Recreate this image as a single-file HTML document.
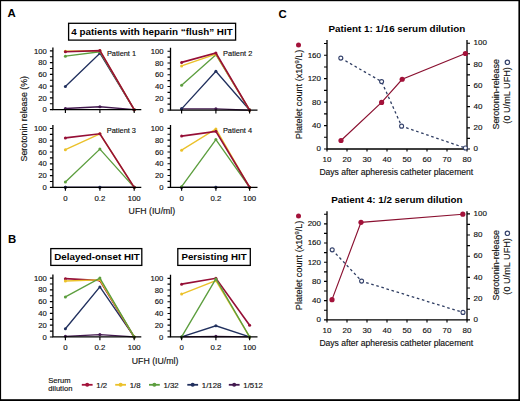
<!DOCTYPE html>
<html><head><meta charset="utf-8"><style>
html,body{margin:0;padding:0;background:#fff;}
svg{display:block;}
text:not([font-weight]){stroke:#111;stroke-width:0.15px;}
</style></head><body>
<svg width="520" height="401" viewBox="0 0 520 401" font-family="Liberation Sans, sans-serif">
<rect x="0" y="0" width="520" height="401" fill="#000"/>
<rect x="1.1" y="1.2" width="517.3" height="398" fill="#fff"/>
<text x="7.5" y="17.1" font-size="11.4" font-weight="bold" fill="#000">A</text>
<text x="8" y="242.6" font-size="11.4" font-weight="bold" fill="#000">B</text>
<text x="278.6" y="17.6" font-size="11.4" font-weight="bold" fill="#000">C</text>
<rect x="68.6" y="23.3" width="167" height="16.8" fill="none" stroke="#000" stroke-width="1.3"/>
<text x="152" y="35" text-anchor="middle" font-size="9.85" font-weight="bold" fill="#000">4 patients with heparin “flush” HIT</text>
<rect x="50.8" y="248.6" width="91" height="16.8" fill="none" stroke="#000" stroke-width="1.3"/>
<text x="97" y="260.3" text-anchor="middle" font-size="9.8" font-weight="bold" fill="#000">Delayed-onset HIT</text>
<rect x="177.8" y="248.6" width="72.5" height="16.8" fill="none" stroke="#000" stroke-width="1.3"/>
<text x="214" y="260.3" text-anchor="middle" font-size="9.7" font-weight="bold" fill="#000">Persisting HIT</text>
<text x="46.80" y="112.25" text-anchor="end" font-size="7.7" fill="#111">0</text>
<text x="46.80" y="100.50" text-anchor="end" font-size="7.7" fill="#111">20</text>
<text x="46.80" y="88.75" text-anchor="end" font-size="7.7" fill="#111">40</text>
<text x="46.80" y="77.00" text-anchor="end" font-size="7.7" fill="#111">60</text>
<text x="46.80" y="65.25" text-anchor="end" font-size="7.7" fill="#111">80</text>
<text x="46.80" y="53.50" text-anchor="end" font-size="7.7" fill="#111">100</text>
<polyline points="65.40,108.48 99.90,106.71 134.20,109.65" fill="none" stroke="#43194f" stroke-width="1.35" stroke-linejoin="miter"/>
<circle cx="65.40" cy="108.48" r="1.5" fill="#43194f"/>
<circle cx="99.90" cy="106.71" r="1.5" fill="#43194f"/>
<circle cx="134.20" cy="109.65" r="1.5" fill="#43194f"/>
<polyline points="65.40,86.44 99.90,53.25 134.20,109.65" fill="none" stroke="#21305e" stroke-width="1.35" stroke-linejoin="miter"/>
<circle cx="65.40" cy="86.44" r="1.5" fill="#21305e"/>
<circle cx="99.90" cy="53.25" r="1.5" fill="#21305e"/>
<circle cx="134.20" cy="109.65" r="1.5" fill="#21305e"/>
<polyline points="65.40,56.19 99.90,51.78 134.20,109.65" fill="none" stroke="#5c9e3e" stroke-width="1.35" stroke-linejoin="miter"/>
<circle cx="65.40" cy="56.19" r="1.5" fill="#5c9e3e"/>
<circle cx="99.90" cy="51.78" r="1.5" fill="#5c9e3e"/>
<circle cx="134.20" cy="109.65" r="1.5" fill="#5c9e3e"/>
<polyline points="65.40,51.19 99.90,50.61 134.20,109.65" fill="none" stroke="#ebc12a" stroke-width="1.35" stroke-linejoin="miter"/>
<circle cx="65.40" cy="51.19" r="1.5" fill="#ebc12a"/>
<circle cx="99.90" cy="50.61" r="1.5" fill="#ebc12a"/>
<circle cx="134.20" cy="109.65" r="1.5" fill="#ebc12a"/>
<polyline points="65.40,51.78 99.90,50.61 134.20,109.65" fill="none" stroke="#960f36" stroke-width="1.65" stroke-linejoin="miter"/>
<circle cx="65.40" cy="51.78" r="1.5" fill="#960f36"/>
<circle cx="99.90" cy="50.61" r="1.5" fill="#960f36"/>
<circle cx="134.20" cy="109.65" r="1.5" fill="#960f36"/>
<path d="M52.90 47.40V109.65H141.30" fill="none" stroke="#000" stroke-width="1.3"/>
<path d="M49.90 109.65H52.90M49.90 103.78H52.90M49.90 97.90H52.90M49.90 92.03H52.90M49.90 86.15H52.90M49.90 80.28H52.90M49.90 74.40H52.90M49.90 68.53H52.90M49.90 62.65H52.90M49.90 56.78H52.90M49.90 50.90H52.90M65.40 109.65V113.05M99.90 109.65V113.05M134.20 109.65V113.05" stroke="#000" stroke-width="1.15"/>
<text x="106.9" y="55.5" font-size="7.4" fill="#111">Patient 1</text>
<text x="163.50" y="112.65" text-anchor="end" font-size="7.7" fill="#111">0</text>
<text x="163.50" y="100.88" text-anchor="end" font-size="7.7" fill="#111">20</text>
<text x="163.50" y="89.11" text-anchor="end" font-size="7.7" fill="#111">40</text>
<text x="163.50" y="77.34" text-anchor="end" font-size="7.7" fill="#111">60</text>
<text x="163.50" y="65.57" text-anchor="end" font-size="7.7" fill="#111">80</text>
<text x="163.50" y="53.80" text-anchor="end" font-size="7.7" fill="#111">100</text>
<polyline points="181.60,108.87 215.90,108.87 249.60,110.05" fill="none" stroke="#43194f" stroke-width="1.35" stroke-linejoin="miter"/>
<circle cx="181.60" cy="108.87" r="1.5" fill="#43194f"/>
<circle cx="215.90" cy="108.87" r="1.5" fill="#43194f"/>
<circle cx="249.60" cy="110.05" r="1.5" fill="#43194f"/>
<polyline points="181.60,108.87 215.90,71.21 249.60,110.05" fill="none" stroke="#21305e" stroke-width="1.35" stroke-linejoin="miter"/>
<circle cx="181.60" cy="108.87" r="1.5" fill="#21305e"/>
<circle cx="215.90" cy="71.21" r="1.5" fill="#21305e"/>
<circle cx="249.60" cy="110.05" r="1.5" fill="#21305e"/>
<polyline points="181.60,85.33 215.90,54.73 249.60,110.05" fill="none" stroke="#5c9e3e" stroke-width="1.35" stroke-linejoin="miter"/>
<circle cx="181.60" cy="85.33" r="1.5" fill="#5c9e3e"/>
<circle cx="215.90" cy="54.73" r="1.5" fill="#5c9e3e"/>
<circle cx="249.60" cy="110.05" r="1.5" fill="#5c9e3e"/>
<polyline points="181.60,65.91 215.90,54.14 249.60,110.05" fill="none" stroke="#ebc12a" stroke-width="1.35" stroke-linejoin="miter"/>
<circle cx="181.60" cy="65.91" r="1.5" fill="#ebc12a"/>
<circle cx="215.90" cy="54.14" r="1.5" fill="#ebc12a"/>
<circle cx="249.60" cy="110.05" r="1.5" fill="#ebc12a"/>
<polyline points="181.60,62.38 215.90,52.97 249.60,110.05" fill="none" stroke="#960f36" stroke-width="1.65" stroke-linejoin="miter"/>
<circle cx="181.60" cy="62.38" r="1.5" fill="#960f36"/>
<circle cx="215.90" cy="52.97" r="1.5" fill="#960f36"/>
<circle cx="249.60" cy="110.05" r="1.5" fill="#960f36"/>
<path d="M170.50 47.70V110.05H257.50" fill="none" stroke="#000" stroke-width="1.3"/>
<path d="M167.50 110.05H170.50M167.50 104.16H170.50M167.50 98.28H170.50M167.50 92.39H170.50M167.50 86.51H170.50M167.50 80.62H170.50M167.50 74.74H170.50M167.50 68.86H170.50M167.50 62.97H170.50M167.50 57.09H170.50M167.50 51.20H170.50M181.60 110.05V113.45M215.90 110.05V113.45M249.60 110.05V113.45" stroke="#000" stroke-width="1.15"/>
<text x="223.1" y="55.6" font-size="7.4" fill="#111">Patient 2</text>
<text x="46.80" y="189.95" text-anchor="end" font-size="7.7" fill="#111">0</text>
<text x="46.80" y="178.18" text-anchor="end" font-size="7.7" fill="#111">20</text>
<text x="46.80" y="166.41" text-anchor="end" font-size="7.7" fill="#111">40</text>
<text x="46.80" y="154.64" text-anchor="end" font-size="7.7" fill="#111">60</text>
<text x="46.80" y="142.87" text-anchor="end" font-size="7.7" fill="#111">80</text>
<text x="46.80" y="131.10" text-anchor="end" font-size="7.7" fill="#111">100</text>
<polyline points="65.40,187.35 99.90,187.35 134.20,187.35" fill="none" stroke="#43194f" stroke-width="1.35" stroke-linejoin="miter"/>
<circle cx="65.40" cy="187.35" r="1.5" fill="#43194f"/>
<circle cx="99.90" cy="187.35" r="1.5" fill="#43194f"/>
<circle cx="134.20" cy="187.35" r="1.5" fill="#43194f"/>
<polyline points="65.40,187.35 99.90,187.35 134.20,187.35" fill="none" stroke="#21305e" stroke-width="1.35" stroke-linejoin="miter"/>
<circle cx="65.40" cy="187.35" r="1.5" fill="#21305e"/>
<circle cx="99.90" cy="187.35" r="1.5" fill="#21305e"/>
<circle cx="134.20" cy="187.35" r="1.5" fill="#21305e"/>
<polyline points="65.40,182.05 99.90,149.10 134.20,187.35" fill="none" stroke="#5c9e3e" stroke-width="1.35" stroke-linejoin="miter"/>
<circle cx="65.40" cy="182.05" r="1.5" fill="#5c9e3e"/>
<circle cx="99.90" cy="149.10" r="1.5" fill="#5c9e3e"/>
<circle cx="134.20" cy="187.35" r="1.5" fill="#5c9e3e"/>
<polyline points="65.40,149.69 99.90,133.80 134.20,187.35" fill="none" stroke="#ebc12a" stroke-width="1.35" stroke-linejoin="miter"/>
<circle cx="65.40" cy="149.69" r="1.5" fill="#ebc12a"/>
<circle cx="99.90" cy="133.80" r="1.5" fill="#ebc12a"/>
<circle cx="134.20" cy="187.35" r="1.5" fill="#ebc12a"/>
<polyline points="65.40,137.92 99.90,133.80 134.20,187.35" fill="none" stroke="#960f36" stroke-width="1.65" stroke-linejoin="miter"/>
<circle cx="65.40" cy="137.92" r="1.5" fill="#960f36"/>
<circle cx="99.90" cy="133.80" r="1.5" fill="#960f36"/>
<circle cx="134.20" cy="187.35" r="1.5" fill="#960f36"/>
<path d="M52.90 125.00V187.35H141.30" fill="none" stroke="#000" stroke-width="1.3"/>
<path d="M49.90 187.35H52.90M49.90 181.47H52.90M49.90 175.58H52.90M49.90 169.69H52.90M49.90 163.81H52.90M49.90 157.93H52.90M49.90 152.04H52.90M49.90 146.16H52.90M49.90 140.27H52.90M49.90 134.38H52.90M49.90 128.50H52.90M65.40 187.35V190.75M99.90 187.35V190.75M134.20 187.35V190.75" stroke="#000" stroke-width="1.15"/>
<text x="106.8" y="132.7" font-size="7.4" fill="#111">Patient 3</text>
<text x="163.50" y="189.90" text-anchor="end" font-size="7.7" fill="#111">0</text>
<text x="163.50" y="178.12" text-anchor="end" font-size="7.7" fill="#111">20</text>
<text x="163.50" y="166.34" text-anchor="end" font-size="7.7" fill="#111">40</text>
<text x="163.50" y="154.56" text-anchor="end" font-size="7.7" fill="#111">60</text>
<text x="163.50" y="142.78" text-anchor="end" font-size="7.7" fill="#111">80</text>
<text x="163.50" y="131.00" text-anchor="end" font-size="7.7" fill="#111">100</text>
<polyline points="181.60,187.30 215.90,187.30 249.60,187.30" fill="none" stroke="#43194f" stroke-width="1.35" stroke-linejoin="miter"/>
<circle cx="181.60" cy="187.30" r="1.5" fill="#43194f"/>
<circle cx="215.90" cy="187.30" r="1.5" fill="#43194f"/>
<circle cx="249.60" cy="187.30" r="1.5" fill="#43194f"/>
<polyline points="181.60,187.30 215.90,187.30 249.60,187.30" fill="none" stroke="#21305e" stroke-width="1.35" stroke-linejoin="miter"/>
<circle cx="181.60" cy="187.30" r="1.5" fill="#21305e"/>
<circle cx="215.90" cy="187.30" r="1.5" fill="#21305e"/>
<circle cx="249.60" cy="187.30" r="1.5" fill="#21305e"/>
<polyline points="181.60,186.71 215.90,139.59 249.60,187.30" fill="none" stroke="#5c9e3e" stroke-width="1.35" stroke-linejoin="miter"/>
<circle cx="181.60" cy="186.71" r="1.5" fill="#5c9e3e"/>
<circle cx="215.90" cy="139.59" r="1.5" fill="#5c9e3e"/>
<circle cx="249.60" cy="187.30" r="1.5" fill="#5c9e3e"/>
<polyline points="181.60,150.19 215.90,128.99 249.60,187.30" fill="none" stroke="#ebc12a" stroke-width="1.35" stroke-linejoin="miter"/>
<circle cx="181.60" cy="150.19" r="1.5" fill="#ebc12a"/>
<circle cx="215.90" cy="128.99" r="1.5" fill="#ebc12a"/>
<circle cx="249.60" cy="187.30" r="1.5" fill="#ebc12a"/>
<polyline points="181.60,136.06 215.90,131.34 249.60,187.30" fill="none" stroke="#960f36" stroke-width="1.65" stroke-linejoin="miter"/>
<circle cx="181.60" cy="136.06" r="1.5" fill="#960f36"/>
<circle cx="215.90" cy="131.34" r="1.5" fill="#960f36"/>
<circle cx="249.60" cy="187.30" r="1.5" fill="#960f36"/>
<path d="M170.50 124.90V187.30H257.50" fill="none" stroke="#000" stroke-width="1.3"/>
<path d="M167.50 187.30H170.50M167.50 181.41H170.50M167.50 175.52H170.50M167.50 169.63H170.50M167.50 163.74H170.50M167.50 157.85H170.50M167.50 151.96H170.50M167.50 146.07H170.50M167.50 140.18H170.50M167.50 134.29H170.50M167.50 128.40H170.50M181.60 187.30V190.70M215.90 187.30V190.70M249.60 187.30V190.70" stroke="#000" stroke-width="1.15"/>
<text x="222.9" y="132.6" font-size="7.4" fill="#111">Patient 4</text>
<text x="65.40" y="200.70" text-anchor="middle" font-size="7.8" fill="#111">0</text>
<text x="99.90" y="200.70" text-anchor="middle" font-size="7.8" fill="#111">0.2</text>
<text x="134.20" y="200.70" text-anchor="middle" font-size="7.8" fill="#111">100</text>
<text x="181.60" y="200.70" text-anchor="middle" font-size="7.8" fill="#111">0</text>
<text x="215.90" y="200.70" text-anchor="middle" font-size="7.8" fill="#111">0.2</text>
<text x="249.60" y="200.70" text-anchor="middle" font-size="7.8" fill="#111">100</text>
<text x="151.9" y="214.4" text-anchor="middle" font-size="8.75" fill="#111">UFH (IU/ml)</text>
<text transform="translate(27.2 118.7) rotate(-90)" text-anchor="middle" font-size="8.85" fill="#111">Serotonin release (%)</text>
<text x="46.80" y="339.55" text-anchor="end" font-size="7.7" fill="#111">0</text>
<text x="46.80" y="327.78" text-anchor="end" font-size="7.7" fill="#111">20</text>
<text x="46.80" y="316.01" text-anchor="end" font-size="7.7" fill="#111">40</text>
<text x="46.80" y="304.24" text-anchor="end" font-size="7.7" fill="#111">60</text>
<text x="46.80" y="292.47" text-anchor="end" font-size="7.7" fill="#111">80</text>
<text x="46.80" y="280.70" text-anchor="end" font-size="7.7" fill="#111">100</text>
<polyline points="65.40,336.36 99.90,334.60 134.20,336.95" fill="none" stroke="#43194f" stroke-width="1.35" stroke-linejoin="miter"/>
<circle cx="65.40" cy="336.36" r="1.5" fill="#43194f"/>
<circle cx="99.90" cy="334.60" r="1.5" fill="#43194f"/>
<circle cx="134.20" cy="336.95" r="1.5" fill="#43194f"/>
<polyline points="65.40,328.71 99.90,286.93 134.20,336.95" fill="none" stroke="#21305e" stroke-width="1.35" stroke-linejoin="miter"/>
<circle cx="65.40" cy="328.71" r="1.5" fill="#21305e"/>
<circle cx="99.90" cy="286.93" r="1.5" fill="#21305e"/>
<circle cx="134.20" cy="336.95" r="1.5" fill="#21305e"/>
<polyline points="65.40,278.69 99.90,280.45 134.20,336.95" fill="none" stroke="#960f36" stroke-width="1.65" stroke-linejoin="miter"/>
<circle cx="65.40" cy="278.69" r="1.5" fill="#960f36"/>
<circle cx="99.90" cy="280.45" r="1.5" fill="#960f36"/>
<circle cx="134.20" cy="336.95" r="1.5" fill="#960f36"/>
<polyline points="65.40,281.04 99.90,279.87 134.20,336.95" fill="none" stroke="#ebc12a" stroke-width="1.35" stroke-linejoin="miter"/>
<circle cx="65.40" cy="281.04" r="1.5" fill="#ebc12a"/>
<circle cx="99.90" cy="279.87" r="1.5" fill="#ebc12a"/>
<circle cx="134.20" cy="336.95" r="1.5" fill="#ebc12a"/>
<polyline points="65.40,296.93 99.90,278.10 134.20,336.95" fill="none" stroke="#5c9e3e" stroke-width="1.35" stroke-linejoin="miter"/>
<circle cx="65.40" cy="296.93" r="1.5" fill="#5c9e3e"/>
<circle cx="99.90" cy="278.10" r="1.5" fill="#5c9e3e"/>
<circle cx="134.20" cy="336.95" r="1.5" fill="#5c9e3e"/>
<path d="M52.90 274.60V336.95H141.30" fill="none" stroke="#000" stroke-width="1.3"/>
<path d="M49.90 336.95H52.90M49.90 331.06H52.90M49.90 325.18H52.90M49.90 319.30H52.90M49.90 313.41H52.90M49.90 307.52H52.90M49.90 301.64H52.90M49.90 295.75H52.90M49.90 289.87H52.90M49.90 283.99H52.90M49.90 278.10H52.90M65.40 336.95V340.35M99.90 336.95V340.35M134.20 336.95V340.35" stroke="#000" stroke-width="1.15"/>
<text x="163.30" y="339.50" text-anchor="end" font-size="7.7" fill="#111">0</text>
<text x="163.30" y="327.78" text-anchor="end" font-size="7.7" fill="#111">20</text>
<text x="163.30" y="316.06" text-anchor="end" font-size="7.7" fill="#111">40</text>
<text x="163.30" y="304.34" text-anchor="end" font-size="7.7" fill="#111">60</text>
<text x="163.30" y="292.62" text-anchor="end" font-size="7.7" fill="#111">80</text>
<text x="163.30" y="280.90" text-anchor="end" font-size="7.7" fill="#111">100</text>
<polyline points="181.60,336.90 215.90,336.31 249.60,336.90" fill="none" stroke="#43194f" stroke-width="1.35" stroke-linejoin="miter"/>
<circle cx="181.60" cy="336.90" r="1.5" fill="#43194f"/>
<circle cx="215.90" cy="336.31" r="1.5" fill="#43194f"/>
<circle cx="249.60" cy="336.90" r="1.5" fill="#43194f"/>
<polyline points="181.60,336.90 215.90,325.77 249.60,336.90" fill="none" stroke="#21305e" stroke-width="1.35" stroke-linejoin="miter"/>
<circle cx="181.60" cy="336.90" r="1.5" fill="#21305e"/>
<circle cx="215.90" cy="325.77" r="1.5" fill="#21305e"/>
<circle cx="249.60" cy="336.90" r="1.5" fill="#21305e"/>
<polyline points="181.60,294.12 215.90,280.64 249.60,336.90" fill="none" stroke="#ebc12a" stroke-width="1.35" stroke-linejoin="miter"/>
<circle cx="181.60" cy="294.12" r="1.5" fill="#ebc12a"/>
<circle cx="215.90" cy="280.64" r="1.5" fill="#ebc12a"/>
<circle cx="249.60" cy="336.90" r="1.5" fill="#ebc12a"/>
<polyline points="181.60,284.16 215.90,278.30 249.60,325.18" fill="none" stroke="#960f36" stroke-width="1.65" stroke-linejoin="miter"/>
<circle cx="181.60" cy="284.16" r="1.5" fill="#960f36"/>
<circle cx="215.90" cy="278.30" r="1.5" fill="#960f36"/>
<circle cx="249.60" cy="325.18" r="1.5" fill="#960f36"/>
<polyline points="181.60,336.90 215.90,278.89 249.60,336.90" fill="none" stroke="#5c9e3e" stroke-width="1.35" stroke-linejoin="miter"/>
<circle cx="181.60" cy="336.90" r="1.5" fill="#5c9e3e"/>
<circle cx="215.90" cy="278.89" r="1.5" fill="#5c9e3e"/>
<circle cx="249.60" cy="336.90" r="1.5" fill="#5c9e3e"/>
<path d="M170.50 274.80V336.90H257.50" fill="none" stroke="#000" stroke-width="1.3"/>
<path d="M167.50 336.90H170.50M167.50 331.04H170.50M167.50 325.18H170.50M167.50 319.32H170.50M167.50 313.46H170.50M167.50 307.60H170.50M167.50 301.74H170.50M167.50 295.88H170.50M167.50 290.02H170.50M167.50 284.16H170.50M167.50 278.30H170.50M181.60 336.90V340.30M215.90 336.90V340.30M249.60 336.90V340.30" stroke="#000" stroke-width="1.15"/>
<text x="65.40" y="350.20" text-anchor="middle" font-size="7.8" fill="#111">0</text>
<text x="99.90" y="350.20" text-anchor="middle" font-size="7.8" fill="#111">0.2</text>
<text x="134.20" y="350.20" text-anchor="middle" font-size="7.8" fill="#111">100</text>
<text x="181.60" y="350.20" text-anchor="middle" font-size="7.8" fill="#111">0</text>
<text x="215.90" y="350.20" text-anchor="middle" font-size="7.8" fill="#111">0.2</text>
<text x="249.60" y="350.20" text-anchor="middle" font-size="7.8" fill="#111">100</text>
<text x="155.1" y="364" text-anchor="middle" font-size="8.75" fill="#111">UFH (IU/ml)</text>
<text x="48.3" y="383" font-size="7.6" fill="#111">Serum</text>
<text x="48.3" y="391.3" font-size="7.6" fill="#111">dilution</text>
<path d="M81.80 384.8H92.60" stroke="#a3123a" stroke-width="1.8"/>
<circle cx="87.20" cy="384.8" r="2" fill="#a3123a"/>
<text x="96.30" y="387.6" font-size="7.8" fill="#111">1/2</text>
<path d="M115.20 384.8H126.00" stroke="#ebc12a" stroke-width="1.8"/>
<circle cx="120.60" cy="384.8" r="2" fill="#ebc12a"/>
<text x="129.70" y="387.6" font-size="7.8" fill="#111">1/8</text>
<path d="M149.00 384.8H159.80" stroke="#5c9e3e" stroke-width="1.8"/>
<circle cx="154.40" cy="384.8" r="2" fill="#5c9e3e"/>
<text x="163.50" y="387.6" font-size="7.8" fill="#111">1/32</text>
<path d="M187.30 384.8H198.10" stroke="#21305e" stroke-width="1.8"/>
<circle cx="192.70" cy="384.8" r="2" fill="#21305e"/>
<text x="201.80" y="387.6" font-size="7.8" fill="#111">1/128</text>
<path d="M228.80 384.8H239.60" stroke="#43194f" stroke-width="1.8"/>
<circle cx="234.20" cy="384.8" r="2" fill="#43194f"/>
<text x="243.30" y="387.6" font-size="7.8" fill="#111">1/512</text>
<text x="396.8" y="31.7" text-anchor="middle" font-size="9.85" font-weight="bold" fill="#000">Patient 1: 1/16 serum dilution</text>
<path d="M327.0 40.0V149.0H467.0V40.0" fill="none" stroke="#000" stroke-width="1.3"/>
<path d="M324.0 149.00H327.0M324.0 137.28H327.0M324.0 125.56H327.0M324.0 113.84H327.0M324.0 102.12H327.0M324.0 90.40H327.0M324.0 78.68H327.0M324.0 66.96H327.0M324.0 55.24H327.0M324.0 43.52H327.0M467.0 149.00H470.0M467.0 138.42H470.0M467.0 127.84H470.0M467.0 117.26H470.0M467.0 106.68H470.0M467.0 96.10H470.0M467.0 85.52H470.0M467.0 74.94H470.0M467.0 64.36H470.0M467.0 53.78H470.0M467.0 43.20H470.0M327.00 149.0V151.6M347.00 149.0V151.6M367.00 149.0V151.6M387.00 149.0V151.6M407.00 149.0V151.6M427.00 149.0V151.6M447.00 149.0V151.6M467.00 149.0V151.6" stroke="#000" stroke-width="1.15"/>
<text x="321.00" y="151.40" text-anchor="end" font-size="8.0" fill="#111">0</text>
<text x="321.00" y="127.96" text-anchor="end" font-size="8.0" fill="#111">40</text>
<text x="321.00" y="104.52" text-anchor="end" font-size="8.0" fill="#111">80</text>
<text x="321.00" y="81.08" text-anchor="end" font-size="8.0" fill="#111">120</text>
<text x="321.00" y="57.64" text-anchor="end" font-size="8.0" fill="#111">160</text>
<text x="473.50" y="151.20" font-size="8.0" fill="#111">0</text>
<text x="473.50" y="130.04" font-size="8.0" fill="#111">20</text>
<text x="473.50" y="108.88" font-size="8.0" fill="#111">40</text>
<text x="473.50" y="87.72" font-size="8.0" fill="#111">60</text>
<text x="473.50" y="66.56" font-size="8.0" fill="#111">80</text>
<text x="473.50" y="45.40" font-size="8.0" fill="#111">100</text>
<text x="327.00" y="162.45" text-anchor="middle" font-size="8.0" fill="#111">10</text>
<text x="347.00" y="162.45" text-anchor="middle" font-size="8.0" fill="#111">20</text>
<text x="367.00" y="162.45" text-anchor="middle" font-size="8.0" fill="#111">30</text>
<text x="387.00" y="162.45" text-anchor="middle" font-size="8.0" fill="#111">40</text>
<text x="407.00" y="162.45" text-anchor="middle" font-size="8.0" fill="#111">50</text>
<text x="427.00" y="162.45" text-anchor="middle" font-size="8.0" fill="#111">60</text>
<text x="447.00" y="162.45" text-anchor="middle" font-size="8.0" fill="#111">70</text>
<text x="467.00" y="162.45" text-anchor="middle" font-size="8.0" fill="#111">80</text>
<text x="319.4" y="175.10" font-size="9.1" fill="#111" textLength="153.8" lengthAdjust="spacingAndGlyphs">Days after apheresis catheter placement</text>
<text transform="translate(301.8 94.40) rotate(-90)" text-anchor="middle" font-size="9.15" fill="#111">Platelet count (x10<tspan font-size="5.8" dy="-3.3">9</tspan><tspan dy="3.3">/L)</tspan></text>
<circle cx="298.5" cy="45.10" r="2.5" fill="#a3123a"/>
<text transform="translate(498.7 94.30) rotate(-90)" text-anchor="middle" font-size="8.95" fill="#111">Serotonin-release</text>
<text transform="translate(510.1 95.40) rotate(-90)" text-anchor="middle" font-size="9.1" textLength="56.5" lengthAdjust="spacing" fill="#111">(0 U/mL UFH)</text>
<circle cx="507.4" cy="62.30" r="2.2" fill="none" stroke="#34416b" stroke-width="1.2"/>
<polyline points="340.80,58.12 381.60,81.61 401.60,126.15 465.40,148.05" fill="none" stroke="#2f3d62" stroke-width="1.3" stroke-dasharray="2.6 2.7"/>
<polyline points="341.00,140.50 381.60,102.41 402.20,79.27 465.40,53.48" fill="none" stroke="#8a1030" stroke-width="1.15"/>
<circle cx="341.00" cy="140.50" r="2.6" fill="#a3123a"/>
<circle cx="381.60" cy="102.41" r="2.6" fill="#a3123a"/>
<circle cx="402.20" cy="79.27" r="2.6" fill="#a3123a"/>
<circle cx="465.40" cy="53.48" r="2.6" fill="#a3123a"/>
<circle cx="340.80" cy="58.12" r="2" fill="#fff" stroke="#34416b" stroke-width="1.1"/>
<circle cx="381.60" cy="81.61" r="2" fill="#fff" stroke="#34416b" stroke-width="1.1"/>
<circle cx="401.60" cy="126.15" r="2" fill="#fff" stroke="#34416b" stroke-width="1.1"/>
<circle cx="465.40" cy="148.05" r="2" fill="#fff" stroke="#34416b" stroke-width="1.1"/>
<text x="396.8" y="202.9" text-anchor="middle" font-size="9.85" font-weight="bold" fill="#000">Patient 4: 1/2 serum dilution</text>
<path d="M327.0 211.2V319.8H467.0V211.2" fill="none" stroke="#000" stroke-width="1.3"/>
<path d="M324.0 319.80H327.0M324.0 310.20H327.0M324.0 300.60H327.0M324.0 291.00H327.0M324.0 281.40H327.0M324.0 271.80H327.0M324.0 262.20H327.0M324.0 252.60H327.0M324.0 243.00H327.0M324.0 233.40H327.0M324.0 223.80H327.0M324.0 214.20H327.0M467.0 319.80H470.0M467.0 309.20H470.0M467.0 298.60H470.0M467.0 288.00H470.0M467.0 277.40H470.0M467.0 266.80H470.0M467.0 256.20H470.0M467.0 245.60H470.0M467.0 235.00H470.0M467.0 224.40H470.0M467.0 213.80H470.0M327.00 319.8V322.40000000000003M347.00 319.8V322.40000000000003M367.00 319.8V322.40000000000003M387.00 319.8V322.40000000000003M407.00 319.8V322.40000000000003M427.00 319.8V322.40000000000003M447.00 319.8V322.40000000000003M467.00 319.8V322.40000000000003" stroke="#000" stroke-width="1.15"/>
<text x="321.00" y="322.20" text-anchor="end" font-size="8.0" fill="#111">0</text>
<text x="321.00" y="303.00" text-anchor="end" font-size="8.0" fill="#111">40</text>
<text x="321.00" y="283.80" text-anchor="end" font-size="8.0" fill="#111">80</text>
<text x="321.00" y="264.60" text-anchor="end" font-size="8.0" fill="#111">120</text>
<text x="321.00" y="245.40" text-anchor="end" font-size="8.0" fill="#111">160</text>
<text x="321.00" y="226.20" text-anchor="end" font-size="8.0" fill="#111">200</text>
<text x="473.50" y="322.00" font-size="8.0" fill="#111">0</text>
<text x="473.50" y="300.80" font-size="8.0" fill="#111">20</text>
<text x="473.50" y="279.60" font-size="8.0" fill="#111">40</text>
<text x="473.50" y="258.40" font-size="8.0" fill="#111">60</text>
<text x="473.50" y="237.20" font-size="8.0" fill="#111">80</text>
<text x="473.50" y="216.00" font-size="8.0" fill="#111">100</text>
<text x="327.00" y="333.25" text-anchor="middle" font-size="8.0" fill="#111">10</text>
<text x="347.00" y="333.25" text-anchor="middle" font-size="8.0" fill="#111">20</text>
<text x="367.00" y="333.25" text-anchor="middle" font-size="8.0" fill="#111">30</text>
<text x="387.00" y="333.25" text-anchor="middle" font-size="8.0" fill="#111">40</text>
<text x="407.00" y="333.25" text-anchor="middle" font-size="8.0" fill="#111">50</text>
<text x="427.00" y="333.25" text-anchor="middle" font-size="8.0" fill="#111">60</text>
<text x="447.00" y="333.25" text-anchor="middle" font-size="8.0" fill="#111">70</text>
<text x="467.00" y="333.25" text-anchor="middle" font-size="8.0" fill="#111">80</text>
<text x="319.4" y="345.90" font-size="9.1" fill="#111" textLength="153.8" lengthAdjust="spacingAndGlyphs">Days after apheresis catheter placement</text>
<text transform="translate(301.8 265.40) rotate(-90)" text-anchor="middle" font-size="9.15" fill="#111">Platelet count (x10<tspan font-size="5.8" dy="-3.3">9</tspan><tspan dy="3.3">/L)</tspan></text>
<circle cx="298.5" cy="216.10" r="2.5" fill="#a3123a"/>
<text transform="translate(498.7 265.30) rotate(-90)" text-anchor="middle" font-size="8.95" fill="#111">Serotonin-release</text>
<text transform="translate(510.1 266.40) rotate(-90)" text-anchor="middle" font-size="9.1" textLength="56.5" lengthAdjust="spacing" fill="#111">(0 U/mL UFH)</text>
<circle cx="507.4" cy="233.30" r="2.2" fill="none" stroke="#34416b" stroke-width="1.2"/>
<polyline points="332.20,249.84 361.60,281.11 463.00,312.38" fill="none" stroke="#2f3d62" stroke-width="1.3" stroke-dasharray="2.6 2.7"/>
<polyline points="332.00,299.64 361.00,222.36 462.80,214.20" fill="none" stroke="#8a1030" stroke-width="1.15"/>
<circle cx="332.00" cy="299.64" r="2.6" fill="#a3123a"/>
<circle cx="361.00" cy="222.36" r="2.6" fill="#a3123a"/>
<circle cx="462.80" cy="214.20" r="2.6" fill="#a3123a"/>
<circle cx="332.20" cy="249.84" r="2" fill="#fff" stroke="#34416b" stroke-width="1.1"/>
<circle cx="361.60" cy="281.11" r="2" fill="#fff" stroke="#34416b" stroke-width="1.1"/>
<circle cx="463.00" cy="312.38" r="2" fill="#fff" stroke="#34416b" stroke-width="1.1"/>
</svg>
</body></html>
